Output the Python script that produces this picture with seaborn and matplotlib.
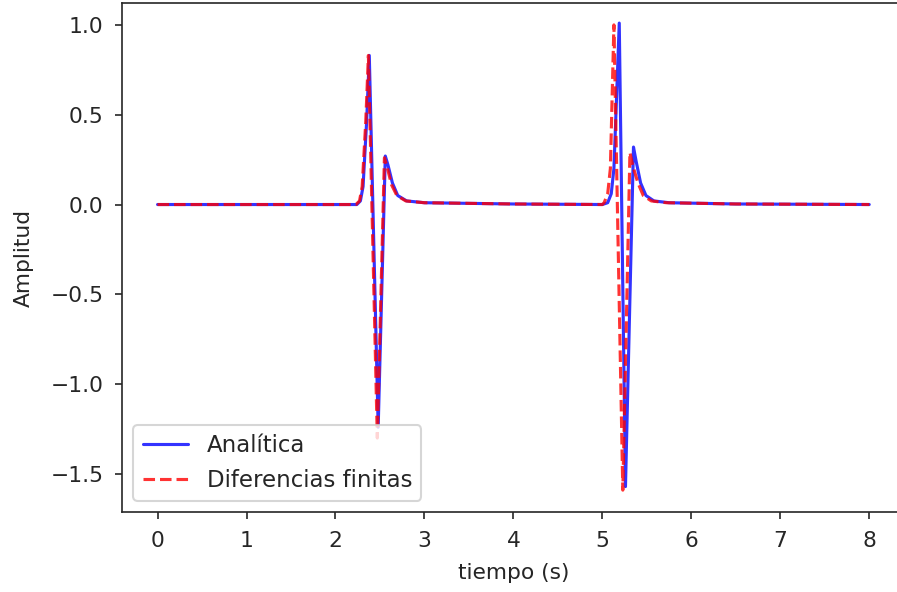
import matplotlib
matplotlib.use("Agg")
import matplotlib.pyplot as plt
import seaborn as sns
import numpy as np
import pandas as pd

# Analytic solution
t_analitica = [0.0, 2.24, 2.28, 2.31, 2.35, 2.38, 2.48, 2.56, 2.59, 2.64, 2.70, 2.80, 3.00, 4.00,
               5.00, 5.06, 5.10, 5.13, 5.16, 5.19, 5.26, 5.35, 5.38, 5.43, 5.49, 5.58, 5.75, 6.50, 8.00]
y_analitica = [0.0, 0.0, 0.02, 0.10, 0.46, 0.83, -1.24, 0.27, 0.22, 0.12, 0.05, 0.02, 0.01, 0.003,
               0.0, 0.01, 0.06, 0.20, 0.60, 1.01, -1.57, 0.32, 0.24, 0.12, 0.05, 0.02, 0.01, 0.003, 0.0]

# Finite differences
t_difs = [0.0, 2.23, 2.27, 2.30, 2.34, 2.37, 2.47, 2.55, 2.58, 2.63, 2.69, 2.79, 3.00, 4.00,
          5.00, 5.02, 5.06, 5.09, 5.11, 5.13, 5.23, 5.31, 5.34, 5.40, 5.46, 5.55, 5.72, 6.50, 8.00]
y_difs = [0.0, 0.0, 0.02, 0.10, 0.46, 0.83, -1.30, 0.26, 0.21, 0.11, 0.05, 0.02, 0.01, 0.003,
          0.0, 0.01, 0.06, 0.20, 0.60, 1.00, -1.59, 0.29, 0.22, 0.12, 0.05, 0.02, 0.01, 0.003, 0.0]

sns.set_style("ticks")
plt.rcParams['font.family'] = ['DejaVu Sans']
plt.rcParams['font.size'] = 10.5

DPI = 149.5
fig = plt.figure(figsize=(897 / DPI, 592 / DPI), dpi=DPI)
ax = fig.add_axes([0.136, 0.135, 0.8727, 0.860])

sns.lineplot(x=t_analitica, y=y_analitica, color="blue", alpha=0.8, lw=1.5,
             label="Analítica", ax=ax, sort=False, estimator=None)
sns.lineplot(x=t_difs, y=y_difs, color="red", alpha=0.8, lw=1.5, ls="--",
             label="Diferencias finitas", ax=ax, sort=False, estimator=None)

ax.set_xlim(-0.4, 8.4)
ax.set_ylim(-1.712, 1.122)
ax.set_xticks(range(0, 9))
ax.set_yticks([-1.5, -1.0, -0.5, 0.0, 0.5, 1.0])
ax.set_xlabel("tiempo (s)", fontsize=10.5, labelpad=6)
ax.set_ylabel("Amplitud", fontsize=10.5, labelpad=8)
ax.tick_params(labelsize=10.5, length=3.5, width=0.8, pad=5.5)
for s in ax.spines.values():
    s.set_visible(True)
    s.set_linewidth(0.8)
ax.legend(loc="lower left", fontsize=11)

fig.savefig("out.png", dpi=DPI)
